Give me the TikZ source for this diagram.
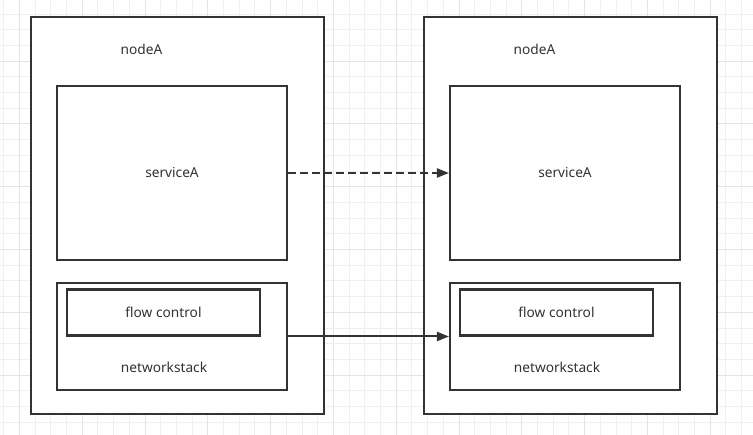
\documentclass[tikz,border=0pt]{standalone}
\usepackage{fontspec}
\setmainfont{Noto Sans}
\usetikzlibrary{positioning}
\usetikzlibrary{arrows.meta}
\definecolor{ink}{HTML}{333333}

\begin{document}
\begin{tikzpicture}[x=1pt, y=-1pt,
    box/.style={draw=ink, line width=2.1pt, fill=white, rectangle, inner sep=0pt},
    txt/.style={text=ink, font=\fontsize{13.7}{16}\selectfont},
    gridminor/.style={draw=black!6, line width=0.8pt},
    gridmajor/.style={draw=black!10, line width=0.8pt},
    link/.style={draw=ink, line width=2pt, -{Triangle[length=12pt,width=9pt]}}]
    \useasboundingbox (0,0) rectangle (753,435);

    % Background grid
    \foreach \i in {0,...,47}
        \draw[gridminor] (3.6+\i*15.7,0) -- (3.6+\i*15.7,435);
    \foreach \j in {1,...,27}
        \draw[gridminor] (0,-1.7+\j*15.7) -- (753,-1.7+\j*15.7);
    \foreach \i in {1,5,...,45}
        \draw[gridmajor] (3.6+\i*15.7,0) -- (3.6+\i*15.7,435);
    \foreach \j in {4,8,...,24}
        \draw[gridmajor] (0,-1.7+\j*15.7) -- (753,-1.7+\j*15.7);

    % Left node
    \node (hostL) [box, minimum width=293, minimum height=397] at (177.5,215.5) {};
    \node (nameL) [txt] at (141.5,49) {nodeA};
    \node (serviceL) [box, txt, minimum width=230, minimum height=174] at (172,173) {serviceA};
    \node (stackL) [box, minimum width=230, minimum height=107] at (172,336.5) {};
    \node (flowL) [box, txt, minimum width=193, minimum height=46] at (163.5,312.5) {flow control};
    \node (stacktextL) [txt] at (164,367) {networkstack};

    % Right node
    \node (hostR) [box, minimum width=293, minimum height=397] at (570.5,215.5) {};
    \node (nameR) [txt] at (534.5,49) {nodeA};
    \node (serviceR) [box, txt, minimum width=230, minimum height=174] at (565,173) {serviceA};
    \node (stackR) [box, minimum width=230, minimum height=107] at (565,336.5) {};
    \node (flowR) [box, txt, minimum width=193, minimum height=46] at (556.5,312.5) {flow control};
    \node (stacktextR) [txt] at (557,367) {networkstack};

    % Links between the nodes
    \draw[link, dash pattern=on 8pt off 4pt] (serviceL) -- (serviceR);
    \draw[link] (stackL) -- (stackR);
\end{tikzpicture}
\end{document}
